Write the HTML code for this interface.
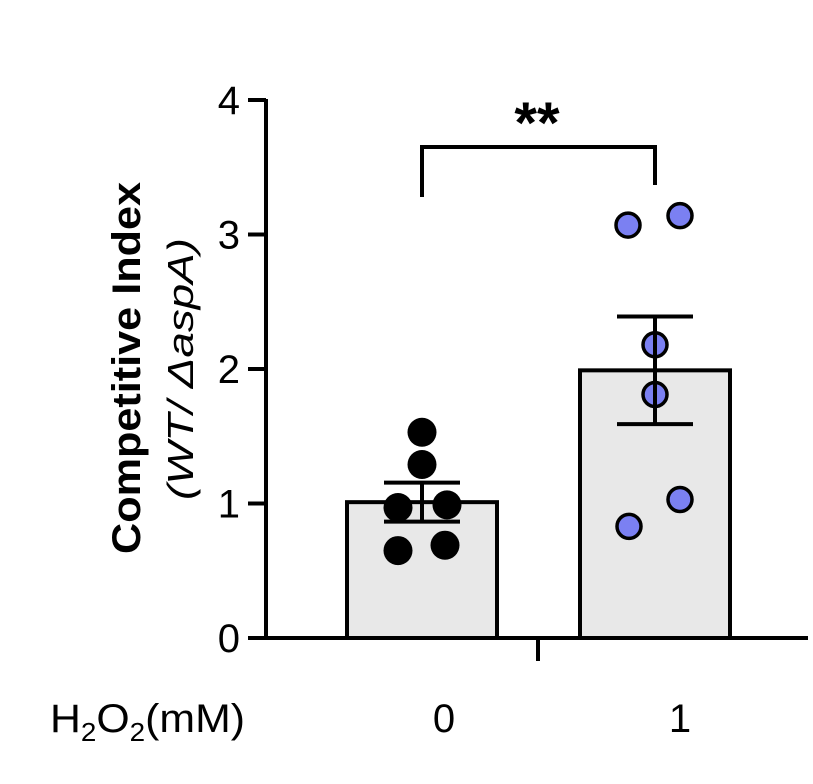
<!DOCTYPE html>
<html><head><meta charset="utf-8"><style>body{margin:0;background:#fff}svg{display:block;font-family:"Liberation Sans",Arial,sans-serif}</style></head>
<body>
<svg width="813" height="784" id="c"></svg>
<script>
const categories=["0","1"];
const means=[1.01,1.99];
const sems=[0.145,0.40];
const points0=[1.53,1.29,0.97,0.99,0.65,0.69];
const points1=[3.07,3.14,2.18,1.81,1.03,0.83];
const offsets0=[0,0,-24,25,-24,23];
const offsets1=[-27,25,0,0,25,-26];
const yTicks=[0,1,2,3,4];
const svg=document.getElementById('c');
const NS='http://www.w3.org/2000/svg';
const y=v=>638-v*134.5;
const cx=[422,655];
function mk(t,a,txt){const e=document.createElementNS(NS,t);for(const k in a)e.setAttribute(k,a[k]);if(txt!==undefined)e.textContent=txt;svg.appendChild(e);return e;}
means.forEach((m,i)=>{const e=mk('rect',{x:cx[i]-75,y:y(m),width:150,height:638-y(m),fill:'#e8e8e8',stroke:'#000','stroke-width':4});
});
function pts(arr,off,i,fill,r,sw){arr.forEach((v,j)=>{const e=mk('circle',{cx:cx[i]+off[j],cy:y(v),r:r,fill:fill,stroke:'#000','stroke-width':sw});
});}
pts(points0,offsets0,0,'#000',14.5,0);
pts(points1,offsets1,1,'#7b80f2',12,3.5);
means.forEach((m,i)=>{const g=mk('path',{d:`M${cx[i]},${y(m-sems[i])}V${y(m+sems[i])}M${cx[i]-38},${y(m+sems[i])}H${cx[i]+38}M${cx[i]-38},${y(m-sems[i])}H${cx[i]+38}`,stroke:'#000','stroke-width':4,fill:'none'});
});
let a=mk('path',{d:'M266,99V640M264,638H808M538,638V661',stroke:'#000','stroke-width':4,fill:'none'});

yTicks.forEach(t=>{const l=mk('line',{x1:248,x2:266,y1:y(t),y2:y(t),stroke:'#000','stroke-width':4});

const tx=mk('text',{x:240,y:y(t)+14,'text-anchor':'end','font-size':40},t);
});
categories.forEach((c,i)=>{const tx=mk('text',{x:[444,680][i],y:732,'text-anchor':'middle','font-size':40},c);
});
let b=mk('path',{d:'M422,197V147H655V185',stroke:'#000','stroke-width':4,fill:'none'});

let s=mk('text',{x:537,y:143,'text-anchor':'middle','font-size':58,'font-weight':'bold'},'**');

</script>
<svg style="position:absolute;left:0;top:0" width="813" height="784">
<text transform="translate(140,368) rotate(-90)" text-anchor="middle" font-size="40" font-weight="bold" textLength="372" lengthAdjust="spacingAndGlyphs">Competitive Index</text>
<text transform="translate(193,369) rotate(-90)" text-anchor="middle" font-size="36" font-style="italic" textLength="262" lengthAdjust="spacingAndGlyphs">(WT/ ΔaspA)</text>
<text x="50" y="732" font-size="40" textLength="195" lengthAdjust="spacingAndGlyphs">H<tspan font-size="26" dy="9">2</tspan><tspan dy="-9">O</tspan><tspan font-size="26" dy="9">2</tspan><tspan dy="-9">(mM)</tspan></text>
</svg>
</body></html>
